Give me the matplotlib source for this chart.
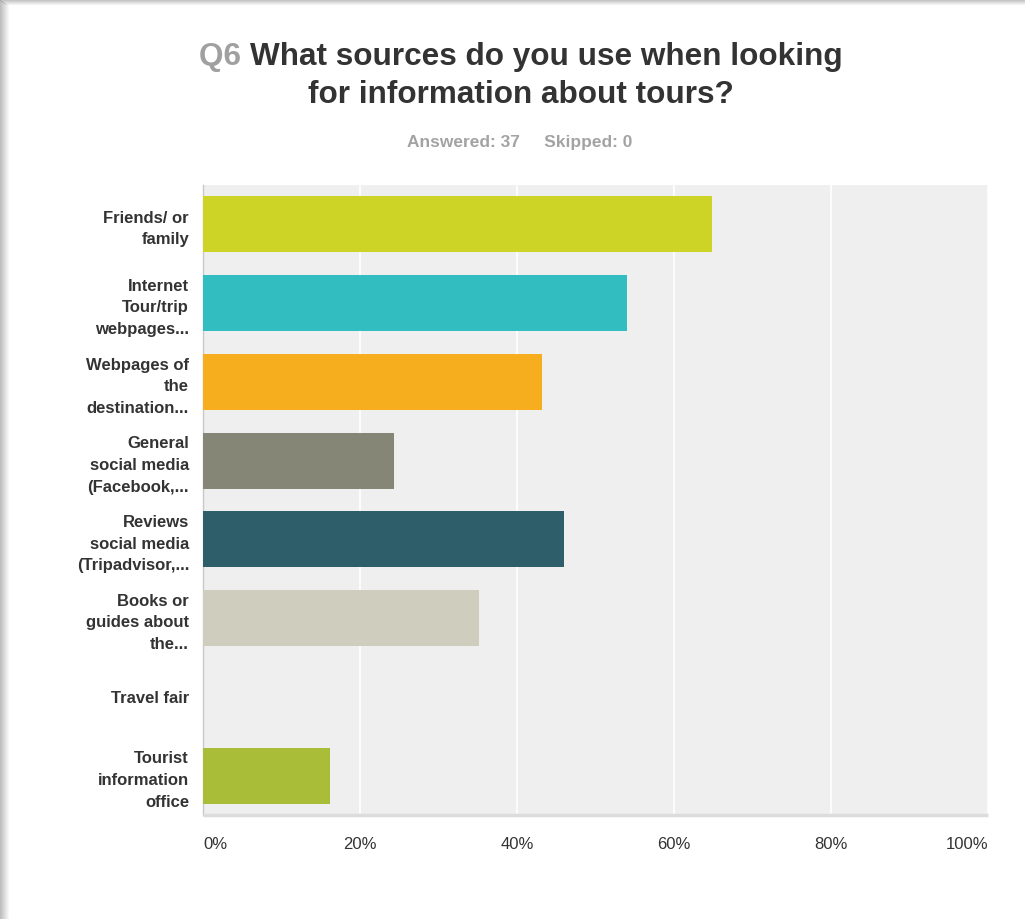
import matplotlib
matplotlib.use("Agg")
import matplotlib.pyplot as plt
from matplotlib.patches import Rectangle

# survey question Q6, 37 respondents
categories = ["Friends/ or\nfamily",
              "Internet\nTour/trip\nwebpages...",
              "Webpages of\nthe\ndestination...",
              "General\nsocial media\n(Facebook,...",
              "Reviews\nsocial media\n(Tripadvisor,...",
              "Books or\nguides about\nthe...",
              "Travel fair",
              "Tourist\ninformation\noffice"]
percent = [64.86, 54.05, 43.24, 24.32, 45.95, 35.14, 0.0, 16.22]
colors = ["#cdd425", "#32bdc0", "#f6ae1e", "#868676",
          "#2e5e6a", "#cfcdbe", "#9cc9d0", "#a9bd39"]
ticks = [0, 20, 40, 60, 80, 100]
tick_labels = ["0%", "20%", "40%", "60%", "80%", "100%"]

plt.rcParams['font.family'] = ['Liberation Sans', 'DejaVu Sans']

fig = plt.figure(figsize=(10.25, 9.19), dpi=100, facecolor="white")

# soft drop shadow along the top and left edge of the card
W, H = 1025, 919
for i in range(9):
    a = 0.45 * (1 - i / 9)
    fig.patches.append(Rectangle((i / W, 0), 1 / W, 1 - i / H * 0.55,
                                 transform=fig.transFigure,
                                 color="#707070", alpha=a, lw=0))
for i in range(5):
    a = 0.4 * (1 - i / 5)
    fig.patches.append(Rectangle((i / W, 1 - (i + 1) / H), 1, 1 / H,
                                 transform=fig.transFigure,
                                 color="#707070", alpha=a, lw=0))

ax = fig.add_axes([203 / W, 1 - 815 / H, 785 / W, 630 / H])
ax.set_facecolor("#efefef")

ypos = list(range(len(categories)))
ax.barh(ypos, percent, height=0.71, color=colors, zorder=3)
ax.set_ylim(len(categories) - 0.5, -0.5)
ax.set_xlim(0, 100)

ax.set_xticks(ticks)
ax.set_xticklabels(tick_labels, fontsize=12, color="#333333")
for lbl, ha in zip(ax.get_xticklabels(), ["left", "center", "center", "center", "center", "right"]):
    lbl.set_horizontalalignment(ha)
ax.tick_params(axis="x", length=0, pad=16)
ax.xaxis.grid(True, color="white", lw=1.2, zorder=1)

ax.set_yticks(ypos)
ax.set_yticklabels(categories, fontsize=12, fontweight="bold",
                   color="#333333", linespacing=1.55)
ax.tick_params(axis="y", length=0, pad=10)

for side in ["top", "right"]:
    ax.spines[side].set_visible(False)
ax.spines["left"].set_color("#c8c8c8")
ax.spines["left"].set_linewidth(1)
ax.spines["bottom"].set_color("#dcdcdc")
ax.spines["bottom"].set_linewidth(2.5)
ax.spines["bottom"].set_capstyle("butt")

# title: grey question number followed by the question text
title_font = dict(fontsize=22.7, fontweight="bold")
t_q = fig.text(0, 1 - 57 / H, "Q6 ", color="#a0a0a0", va="center", **title_font)
t_rest = fig.text(0, 1 - 57 / H, "What sources do you use when looking",
                  color="#333333", va="center", **title_font)
fig.canvas.draw()
r = fig.canvas.get_renderer()
wq = t_q.get_window_extent(r).width
wr = t_rest.get_window_extent(r).width
x0 = 521 - (wq + wr) / 2
t_q.set_x(x0 / W)
t_rest.set_x((x0 + wq) / W)
fig.text(521 / W, 1 - 95 / H, "for information about tours?", color="#333333",
         ha="center", va="center", **title_font)

fig.text(520 / W, 1 - 143 / H, "Answered: 37     Skipped: 0", color="#a3a3a3",
         ha="center", va="center", fontsize=12.5, fontweight="bold")

fig.savefig("out.png", dpi=100, facecolor="white")
